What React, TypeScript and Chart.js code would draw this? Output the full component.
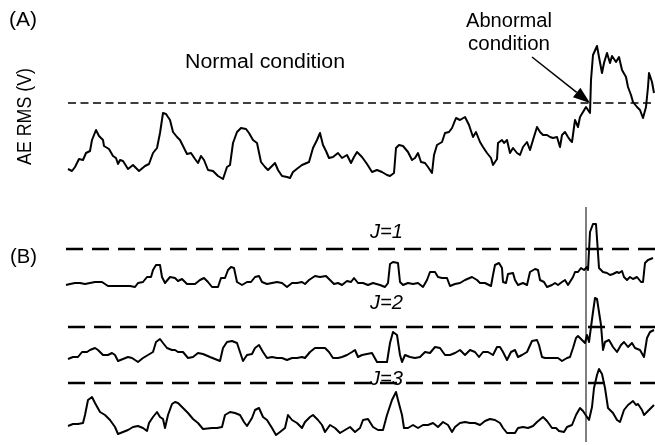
import React, { useEffect, useRef } from "react";
import { Chart, registerables } from "chart.js";

Chart.register(...registerables);

// ---- Panel (A): AE RMS signal (time index, amplitude) ----
const tA = [2,6,9,13,17,20,24,26,30,33,37,38,43,47,50,52,54,57,62,67,73,79,83,87,91,94,97,100,104,107,111,114,118,121,125,129,132,135,138,142,147,152,157,161,164,167,171,175,180,183,187,191,195,199,202,206,209,212,216,221,224,227,232,236,243,247,251,254,257,260,263,267,272,276,281,285,288,291,296,301,306,311,316,321,324,328,330,333,337,342,346,349,352,355,359,362,366,368,371,376,379,383,386,390,394,399,403,407,410,414,417,421,425,427,431,432,436,438,441,444,447,451,454,457,461,464,467,471,474,477,481,484,487,491,494,496,499,502,504,506,509,512,514,517,520,522,524,525,527,531,533,536,538,541,544,546,550,553,556,560,562,565,567,571,574,577,580,582,583,586,588];
const aeA = [21,19,23,31,30,37,39,50,60,54,50,44,41,34,32,26,30,29,21,25,19,24,26,37,42,57,77,76,70,58,53,50,42,36,37,31,27,34,30,20,19,14,11,23,25,47,58,62,61,57,50,47,28,23,20,24,27,20,14,13,12,18,22,25,28,42,50,57,45,39,32,33,37,32,35,27,33,38,33,26,18,20,18,15,14,17,42,45,44,38,30,32,37,28,27,23,17,35,45,48,57,58,62,72,70,73,65,53,58,48,43,37,32,25,31,47,50,47,50,37,42,37,35,43,48,40,50,63,58,55,55,53,52,53,43,55,58,53,50,48,70,63,73,78,83,80,77,110,135,144,133,117,127,137,127,134,128,133,120,113,103,95,88,83,80,72,83,103,117,108,97];
const thresholdA = 87;
const thresholdASpan = [2, 589];

// ---- Panel (B): decomposed levels J=1..3 ----
const tJ1 = [0,4,9,14,19,24,29,36,42,52,64,69,72,77,81,85,87,90,94,96,99,104,109,112,116,121,129,134,138,142,146,152,155,159,162,165,168,171,176,181,185,189,193,196,201,206,211,216,221,226,231,236,239,243,249,254,260,264,268,272,276,281,285,288,292,297,302,307,314,319,322,324,327,332,334,337,342,347,352,357,361,364,369,372,376,381,384,389,394,399,406,411,414,419,425,427,429,433,436,437,440,442,447,449,452,457,461,464,469,472,474,478,481,486,489,492,496,499,502,507,509,512,515,518,521,522,524,527,530,532,533,537,541,544,547,551,553,556,558,561,564,567,571,575,577,579,582,587];
const j1 = [5,6,7,7,6,7,8,8,4,4,4,3,7,8,13,13,20,25,25,13,7,13,12,9,11,6,6,10,12,8,3,3,12,12,20,23,22,8,5,8,8,13,14,8,6,7,8,7,3,7,7,8,6,10,14,13,14,10,6,7,5,9,8,12,7,7,5,7,5,3,7,26,28,27,8,5,7,6,7,3,10,18,18,13,12,12,4,6,7,10,13,10,7,7,4,15,25,27,22,8,7,16,17,10,5,7,5,18,21,20,10,8,3,5,7,5,8,10,5,13,18,18,22,20,23,20,58,66,66,37,22,18,17,15,16,18,17,19,13,10,13,11,13,8,8,27,30,32];
const thresholdJ1 = 41;

const tJ2 = [2,7,12,16,21,24,29,32,37,42,46,49,52,57,62,66,72,77,82,87,90,94,97,101,106,109,112,117,122,127,132,137,144,149,154,157,161,166,171,174,177,181,186,189,193,197,201,206,211,216,221,226,231,236,239,244,249,254,259,263,267,272,276,281,286,289,292,296,301,306,311,316,321,324,327,331,334,336,339,344,349,354,359,364,369,374,379,384,389,394,399,404,409,413,417,422,427,431,434,437,441,445,449,452,456,461,466,471,473,476,479,484,489,492,496,501,504,507,510,512,516,519,521,523,527,529,531,535,537,539,543,547,551,555,558,562,566,569,574,578,581,584,588];
const j2 = [6,8,8,13,13,15,17,15,10,10,12,10,4,6,8,7,3,7,10,13,23,26,22,17,15,15,13,13,7,8,12,11,8,6,4,17,23,24,22,13,4,10,11,17,20,13,7,8,7,7,5,7,7,8,7,13,17,17,17,13,7,7,8,10,13,15,8,10,11,12,3,3,3,22,33,30,10,3,10,8,7,8,13,12,18,17,10,10,12,15,10,15,13,8,13,13,10,18,18,13,5,13,15,8,10,13,24,25,20,8,7,7,7,7,4,7,8,17,27,29,25,22,30,23,53,67,66,40,15,23,25,18,13,20,23,18,22,17,15,8,27,33,35];
const thresholdJ2 = 38;

const tJ3 = [2,7,12,17,19,22,26,29,34,39,44,49,52,57,62,67,72,77,81,83,87,91,94,97,99,102,106,109,112,117,122,127,132,137,146,151,156,159,164,169,174,178,181,186,189,193,197,201,206,210,214,219,222,226,231,236,239,244,247,252,256,259,264,269,274,279,284,289,294,297,302,307,312,317,321,326,330,332,336,338,342,347,352,357,362,367,372,377,382,386,389,394,399,404,409,414,419,424,429,434,437,441,446,449,452,457,462,467,471,477,481,486,490,493,498,501,506,510,514,517,521,523,526,528,531,533,536,539,542,547,551,554,558,562,567,570,572,576,578,581,585,588];
const j3 = [11,13,13,14,22,37,40,34,25,22,17,10,3,5,7,10,11,9,6,14,20,25,20,18,9,22,33,35,34,29,24,18,14,8,9,9,10,22,25,24,22,15,11,19,27,29,20,17,9,2,5,9,22,17,14,9,15,20,22,17,12,5,12,9,4,7,10,5,9,17,18,10,7,7,22,37,45,37,22,9,9,12,9,12,12,14,10,15,12,5,10,14,15,14,14,12,16,18,17,14,9,4,4,4,9,10,9,11,15,20,16,9,9,6,5,10,12,22,29,26,20,17,30,49,62,68,63,49,29,24,17,15,27,32,36,32,33,27,22,25,29,32];
const thresholdJ3 = 54;
const thresholdBSpan = [[0, 589], [2, 589], [2, 589]];

const faultTime = 520;
const crossingTime = 524;

const levelLabels = ["J=1", "J=2", "J=3"];

const FONT = "Liberation Sans, Arial, Helvetica, sans-serif";

function pts(t: number[], v: number[]) {
  return t.map((x, i) => ({ x, y: v[i] }));
}

function fitText(
  ctx: CanvasRenderingContext2D,
  text: string,
  x: number,
  y: number,
  width: number,
  font: string,
  align: CanvasTextAlign
) {
  ctx.font = font;
  const w = ctx.measureText(text).width;
  const s = width / w;
  ctx.save();
  ctx.translate(x, y);
  ctx.scale(s, 1);
  ctx.textAlign = align;
  ctx.textBaseline = "alphabetic";
  ctx.fillText(text, 0, 0);
  ctx.restore();
}

const overlay = {
  id: "overlay",
  beforeDatasetsDraw(chart: any) {
    const ctx = chart.ctx as CanvasRenderingContext2D;
    const xs = chart.scales.x;
    const xf = xs.getPixelForValue(faultTime);
    ctx.save();
    ctx.strokeStyle = "#555";
    ctx.lineWidth = 1.5;
    ctx.beginPath();
    ctx.moveTo(xf, 207);
    ctx.lineTo(xf, 442);
    ctx.stroke();
    ctx.restore();
  },
  afterDraw(chart: any) {
    const ctx = chart.ctx as CanvasRenderingContext2D;
    const xs = chart.scales.x;
    const ya = chart.scales.yA;
    ctx.save();
    ctx.fillStyle = "#000";
    fitText(ctx, "(A)", 9, 26, 28, `20px ${FONT}`, "left");
    fitText(ctx, "(B)", 10, 263, 27, `20px ${FONT}`, "left");
    fitText(ctx, "Normal condition", 185, 68, 160, `20px ${FONT}`, "left");
    fitText(ctx, "Abnormal", 509, 27, 86, `20px ${FONT}`, "center");
    fitText(ctx, "condition", 509, 50, 82, `20px ${FONT}`, "center");
    fitText(ctx, levelLabels[0], 370, 238, 33, `italic 20px ${FONT}`, "left");
    fitText(ctx, levelLabels[1], 370, 309, 33, `italic 20px ${FONT}`, "left");
    fitText(ctx, levelLabels[2], 370, 385, 33, `italic 20px ${FONT}`, "left");

    // rotated y label
    ctx.save();
    ctx.translate(31, 116.5);
    ctx.rotate(-Math.PI / 2);
    fitText(ctx, "AE RMS (V)", 0, 0, 97, `20px ${FONT}`, "center");
    ctx.restore();

    // arrow
    const tipX = xs.getPixelForValue(crossingTime);
    const tipY = ya.getPixelForValue(thresholdA);
    const sx = 532, sy = 57;
    const ang = Math.atan2(tipY - sy, tipX - sx);
    const headLen = 17, headW = 6;
    const bx = tipX - headLen * Math.cos(ang);
    const by = tipY - headLen * Math.sin(ang);
    ctx.strokeStyle = "#000";
    ctx.lineWidth = 1.5;
    ctx.beginPath();
    ctx.moveTo(sx, sy);
    ctx.lineTo(bx, by);
    ctx.stroke();
    ctx.beginPath();
    ctx.moveTo(tipX, tipY);
    ctx.lineTo(bx + headW * Math.sin(ang), by - headW * Math.cos(ang));
    ctx.lineTo(bx - headW * Math.sin(ang), by + headW * Math.cos(ang));
    ctx.closePath();
    ctx.fill();
    ctx.restore();
  },
};

export default function App() {
  const ref = useRef<HTMLCanvasElement | null>(null);
  useEffect(() => {
    if (!ref.current) return;
    const trace = (data: any[], yAxisID: string) => ({
      data,
      yAxisID,
      borderColor: "#000",
      borderWidth: 2,
      pointRadius: 0,
      tension: 0,
      borderJoinStyle: "round" as const,
      fill: false,
    });
    const dashed = (span: number[], value: number, yAxisID: string, width: number, dash: number[]) => ({
      data: [
        { x: span[0], y: value },
        { x: span[1], y: value },
      ],
      yAxisID,
      borderColor: "#000",
      borderWidth: width,
      borderDash: dash,
      pointRadius: 0,
      fill: false,
    });
    const chart = new Chart(ref.current, {
      type: "line",
      data: {
        datasets: [
          dashed(thresholdASpan, thresholdA, "yA", 1.4, [8, 4.5]),
          trace(pts(tA, aeA), "yA"),
          dashed(thresholdBSpan[0], thresholdJ1, "yJ1", 2.5, [17, 9]),
          trace(pts(tJ1, j1), "yJ1"),
          dashed(thresholdBSpan[1], thresholdJ2, "yJ2", 2.5, [17, 9]),
          trace(pts(tJ2, j2), "yJ2"),
          dashed(thresholdBSpan[2], thresholdJ3, "yJ3", 2.5, [17, 9]),
          trace(pts(tJ3, j3), "yJ3"),
        ] as any,
      },
      options: {
        animation: false,
        responsive: false,
        parsing: false as any,
        layout: { padding: 0 },
        plugins: { legend: { display: false }, tooltip: { enabled: false } },
        scales: {
          x: { type: "linear", min: -66, max: 589, display: false },
          yA: { type: "linear", min: -255, max: 190, display: false },
          yJ1: { type: "linear", min: -155, max: 290, display: false },
          yJ2: { type: "linear", min: -80, max: 365, display: false },
          yJ3: { type: "linear", min: -8, max: 437, display: false },
        },
      },
      plugins: [overlay],
    });
    return () => chart.destroy();
  }, []);
  return (
    <div style={{ position: "fixed", left: 0, top: 0, width: 655, height: 445, background: "#fff" }}>
      <canvas ref={ref} width={655} height={445} style={{ display: "block" }} />
    </div>
  );
}
